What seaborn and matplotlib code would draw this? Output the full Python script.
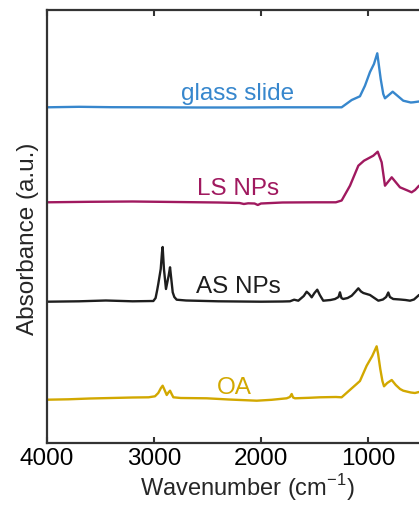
import numpy as np
import pandas as pd
import matplotlib.pyplot as plt
import seaborn as sns

# sample names, colours and vertical offsets (a.u.)
samples = ['glass slide', 'LS NPs', 'AS NPs', 'OA']
colors = ['#3787CD', '#A0195F', '#1E1E1E', '#D2A800']
offsets = [3.357, 2.407, 1.415, 0.435]

# spectra (wavenumber in cm-1, absorbance relative to baseline)
wn_glass = [4000, 3700, 3400, 3000, 2600, 2200, 1800, 1400, 1246, 1152, 1075, 1028,
            981, 944, 913, 881, 857, 841, 769, 670, 600, 577, 523]
ab_glass = [0, 0.005, 0.001, 0, -0.002, -0.002, 0, 0, 0, 0.073, 0.11, 0.216,
            0.353, 0.433, 0.54, 0.283, 0.133, 0.09, 0.156, 0.066, 0.048, 0.05, 0.058]

wn_ls = [4000, 3600, 3200, 2800, 2400, 2200, 2160, 2120, 2060, 2030, 2000, 1800,
         1500, 1300, 1246, 1168, 1090, 1037, 950, 909, 872, 841, 778, 701, 630,
         592, 560, 523]
ab_ls = [0, 0.005, 0.008, 0.003, -0.002, -0.007, -0.017, -0.01, -0.012, -0.027,
         -0.012, -0.002, 0, 0, 0.018, 0.166, 0.366, 0.416, 0.466, 0.506, 0.4,
         0.166, 0.25, 0.15, 0.118, 0.1, 0.123, 0.166]

wn_as = [4000, 3700, 3450, 3200, 3006, 2985, 2970, 2960, 2937, 2925, 2919, 2907,
         2888, 2863, 2850, 2835, 2825, 2810, 2788, 2700, 2400, 2200, 2000, 1800,
         1729, 1690, 1651, 1600, 1573, 1550, 1526, 1500, 1474, 1450, 1418, 1350,
         1308, 1275, 1262, 1248, 1231, 1190, 1152, 1120, 1090, 1065, 1043, 981,
         940, 903, 860, 830, 810, 795, 764, 700, 650, 607, 570, 530, 523]
ab_as = [-0.002, 0.002, 0.01, 0.002, 0.005, 0.035, 0.115, 0.175, 0.325, 0.492,
         0.545, 0.325, 0.125, 0.258, 0.342, 0.192, 0.092, 0.045, 0.018, 0.01,
         0.002, 0, -0.002, 0, 0.002, 0.018, 0.008, 0.055, 0.098, 0.075, 0.042,
         0.085, 0.118, 0.065, 0.008, 0.015, 0.025, 0.045, 0.092, 0.035, 0.025,
         0.035, 0.058, 0.095, 0.132, 0.1, 0.085, 0.065, 0.035, 0.008, 0.02,
         0.045, 0.09, 0.045, 0.025, 0.02, 0.015, 0.008, 0.02, 0.058, 0.065]

wn_oa = [4000, 3800, 3600, 3400, 3200, 3050, 2991, 2960, 2935, 2919, 2905, 2881,
         2865, 2850, 2835, 2819, 2750, 2507, 2300, 2040, 1900, 1760, 1730, 1713,
         1700, 1682, 1550, 1449, 1300, 1246, 1180, 1106, 1075, 1012, 960, 919,
         905, 885, 865, 850, 820, 778, 740, 700, 670, 600, 561, 523]
ab_oa = [-0.002, 0.002, 0.01, 0.015, 0.02, 0.022, 0.032, 0.065, 0.115, 0.138,
         0.105, 0.045, 0.07, 0.088, 0.055, 0.022, 0.015, 0.012, 0, -0.012,
         -0.003, 0.012, 0.025, 0.055, 0.02, 0.012, 0.017, 0.022, 0.025, 0.022,
         0.085, 0.155, 0.185, 0.338, 0.435, 0.532, 0.455, 0.305, 0.185, 0.132,
         0.165, 0.195, 0.145, 0.105, 0.088, 0.07, 0.065, 0.075]

# label positions (wavenumber, height)
label_x = [2215, 2215, 2215, 2248]
label_y = [3.445, 2.49, 1.51, 0.50]

xticks = [4000, 3000, 2000, 1000]

wns = [wn_glass, wn_ls, wn_as, wn_oa]
abs_ = [ab_glass, ab_ls, ab_as, ab_oa]

frames = []
for name, w, a, off in zip(samples, wns, abs_, offsets):
    frames.append(pd.DataFrame({'wavenumber': w,
                                'absorbance': np.array(a) + off,
                                'sample': name}))
df = pd.concat(frames, ignore_index=True)

sns.set_theme(style='ticks')
plt.rcParams['font.family'] = ['Liberation Sans', 'DejaVu Sans']
plt.rcParams['mathtext.fontset'] = 'custom'
plt.rcParams['mathtext.rm'] = 'Liberation Sans'

fig = plt.figure(figsize=(4.19, 5.06), dpi=100)
ax = fig.add_axes([47 / 419, 62 / 506, 1 - 47 / 419, 433 / 506])

sns.lineplot(data=df, x='wavenumber', y='absorbance', hue='sample',
             palette=dict(zip(samples, colors)), estimator=None, sort=True,
             linewidth=1.7, legend=False, ax=ax)

for name, c, lx, ly in zip(samples, colors, label_x, label_y):
    ax.text(lx, ly, name, color=c, fontsize=17.5, ha='center', va='baseline')

ax.set_xlim(4000, 523)
ax.set_ylim(0, 4.33)
ax.set_xticks(xticks)
ax.set_xticklabels([str(t) for t in xticks])
ax.set_yticks([])

ax.tick_params(axis='x', which='both', direction='in', top=True, bottom=True,
               length=4, width=1.5, pad=3, labelsize=17.5, colors='#333333',
               labelcolor='black')
for side in ['left', 'top', 'bottom']:
    ax.spines[side].set_linewidth(1.6)
    ax.spines[side].set_color('#333333')
ax.spines['right'].set_visible(False)

ax.set_xlabel(r'Wavenumber (cm$^{\mathregular{-1}}$)', fontsize=17)
ax.set_ylabel('Absorbance (a.u.)', fontsize=17.5)
ax.xaxis.set_label_coords(0.539, -0.066)
ax.yaxis.set_label_coords(-0.022, 0.474)

plt.savefig('out.png', dpi=100)
